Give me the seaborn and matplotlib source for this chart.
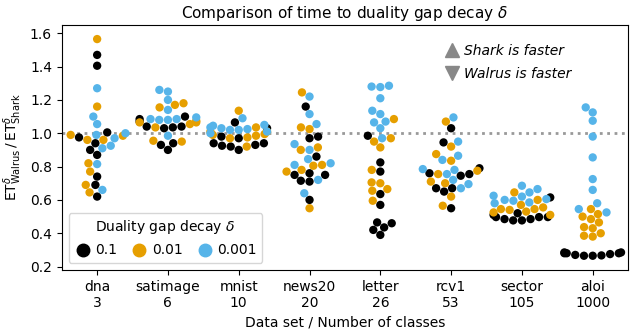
import numpy as np
import pandas as pd
import matplotlib
matplotlib.use("Agg")
import matplotlib.pyplot as plt
from matplotlib.lines import Line2D
import seaborn as sns

datasets = ["dna", "satimage", "mnist", "news20", "letter", "rcv1", "sector", "aloi"]
n_classes = [3, 6, 10, 20, 26, 53, 105, 1000]
deltas = ["0.1", "0.01", "0.001"]
colors = ["#000000", "#E69F00", "#56B4E9"]

ratios_01 = {
    "dna":      [1.47, 1.405, 1.005, 0.975, 0.94, 0.90, 0.87, 0.74, 0.69, 0.62],
    "satimage": [1.10, 1.07, 1.04, 1.03, 1.035, 1.04, 1.085, 0.93, 0.94, 0.90],
    "mnist":    [1.065, 1.03, 0.94, 0.93, 0.92, 0.90, 0.97, 0.98, 0.925, 0.94],
    "news20":   [1.16, 0.97, 0.98, 0.86, 0.75, 0.76, 0.75, 0.715, 0.71, 0.60],
    "letter":   [0.985, 0.825, 0.77, 0.635, 0.57, 0.465, 0.46, 0.42, 0.435, 0.39],
    "rcv1":     [1.03, 0.945, 0.79, 0.76, 0.755, 0.745, 0.67, 0.67, 0.65, 0.55],
    "sector":   [0.615, 0.52, 0.497, 0.485, 0.477, 0.477, 0.485, 0.497, 0.497, 0.51],
    "aloi":     [0.285, 0.28, 0.275, 0.265, 0.265, 0.267, 0.27, 0.28, 0.285, 0.28],
}
ratios_001 = {
    "dna":      [1.565, 1.16, 0.96, 0.96, 0.99, 0.985, 0.82, 0.77, 0.69, 0.645],
    "satimage": [1.155, 1.17, 1.18, 1.065, 1.035, 1.075, 1.055, 1.065, 0.955, 0.95],
    "mnist":    [1.135, 1.035, 0.995, 0.985, 0.975, 0.97, 1.01, 1.01, 0.99, 0.92],
    "news20":   [1.245, 1.035, 1.025, 0.915, 0.90, 0.81, 0.805, 0.78, 0.77, 0.55],
    "letter":   [1.085, 0.95, 0.97, 0.915, 0.78, 0.705, 0.70, 0.655, 0.665, 0.595],
    "rcv1":     [1.07, 0.92, 0.875, 0.835, 0.775, 0.755, 0.71, 0.70, 0.62, 0.565],
    "sector":   [0.645, 0.60, 0.555, 0.57, 0.54, 0.525, 0.53, 0.545, 0.545, 0.51],
    "aloi":     [0.545, 0.515, 0.485, 0.50, 0.465, 0.437, 0.43, 0.385, 0.38, 0.40],
}
ratios_0001 = {
    "dna":      [1.27, 1.10, 1.055, 1.0, 0.97, 0.99, 0.91, 0.925, 0.815, 0.66],
    "satimage": [1.25, 1.26, 1.20, 1.14, 1.085, 1.08, 1.08, 1.085, 1.095, 0.985],
    "mnist":    [1.09, 1.05, 1.045, 1.035, 1.03, 1.025, 1.02, 1.02, 1.01, 1.0],
    "news20":   [1.22, 1.115, 1.055, 0.935, 0.90, 0.845, 0.81, 0.82, 0.72, 0.64],
    "letter":   [1.28, 1.277, 1.285, 1.21, 1.135, 1.115, 1.065, 1.07, 1.03, 0.97],
    "rcv1":     [1.095, 0.95, 0.865, 0.84, 0.78, 0.785, 0.72, 0.755, 0.695, 0.67],
    "sector":   [0.685, 0.665, 0.645, 0.625, 0.62, 0.605, 0.60, 0.585, 0.595, 0.58],
    "aloi":     [1.155, 1.125, 1.075, 0.98, 0.855, 0.725, 0.66, 0.58, 0.545, 0.525],
}

tick_labels = [f"{d}\n{n}" for d, n in zip(datasets, n_classes)]

rows = []
for delta, table in zip(deltas, [ratios_01, ratios_001, ratios_0001]):
    for ds in datasets:
        for v in table[ds]:
            rows.append({"dataset": ds, "delta": delta, "ratio": v})
df = pd.DataFrame(rows)

plt.rcParams["font.family"] = ["DejaVu Sans"]
plt.rcParams["font.size"] = 10
plt.rcParams["mathtext.fontset"] = "dejavusans"

fig, ax = plt.subplots(figsize=(6.3, 3.32), dpi=100)
fig.subplots_adjust(left=0.098, right=0.997, top=0.925, bottom=0.187)

ax.axhline(1.0, color="#999999", linestyle=":", linewidth=2, zorder=0)

sns.swarmplot(data=df, x="dataset", y="ratio", hue="delta", order=datasets,
              hue_order=deltas, palette=colors, size=6, ax=ax, legend=False)

ax.set_ylim(0.18, 1.65)
ax.set_yticks([0.2, 0.4, 0.6, 0.8, 1.0, 1.2, 1.4, 1.6])
ax.set_xticks(range(len(datasets)))
ax.set_xticklabels(tick_labels)
ax.set_xlabel("Data set / Number of classes")
ax.set_ylabel(r"$\mathrm{ET}^{\delta}_{\mathrm{Walrus}}\,/\,\mathrm{ET}^{\delta}_{\mathrm{Shark}}$")
ax.set_title(r"Comparison of time to duality gap decay $\delta$", fontsize=11, pad=5)

handles = [Line2D([], [], marker="o", linestyle="", color=c, markersize=9) for c in colors]
leg1 = ax.legend(handles, deltas, title=r"Duality gap decay $\delta$", ncol=3,
                 loc="lower left", handletextpad=0.3, columnspacing=1.0,
                 handlelength=1.2)
ax.add_artist(leg1)

tri = [Line2D([], [], marker="^", linestyle="", color="#888888", markersize=10),
       Line2D([], [], marker="v", linestyle="", color="#888888", markersize=10)]
ax.legend(tri, ["Shark is faster", "Walrus is faster"], loc="upper left",
          bbox_to_anchor=(0.652, 0.975), frameon=False,
          prop={"style": "italic", "size": 10}, handletextpad=0.3,
          labelspacing=0.7, handlelength=1.2)

fig.savefig("out.png", dpi=100)
